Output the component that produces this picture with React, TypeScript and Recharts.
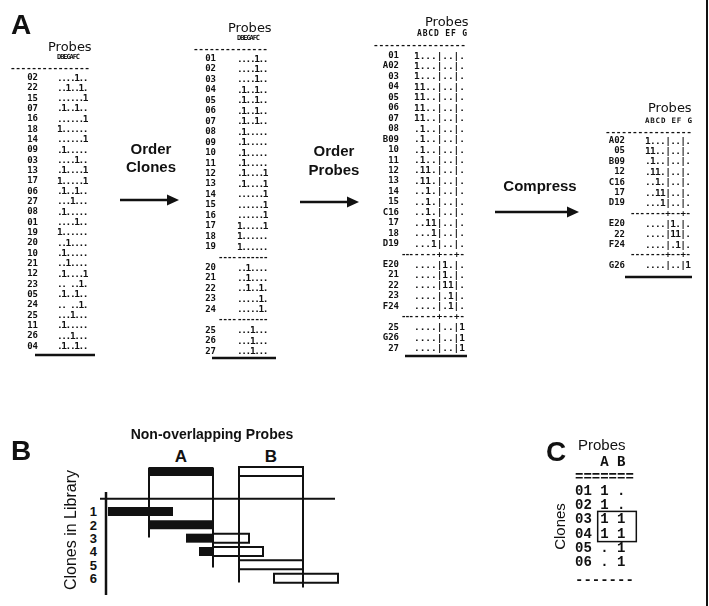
import React from 'react';
import { BarChart, Bar, XAxis, YAxis, ReferenceLine, LabelList } from 'recharts';

// ---------- panel A: the four clone x probe tables ----------
const SEP = '-';

const t1Clones = ['02', '22', '15', '07', '16', '18', '14', '09', '03', '13', '17', '06', '27', '08', '01', '19', '20', '10', '21', '12', '23', '05', '24', '25', '11', '26', '04'];
const t1Patterns = ['....1..', '..1..1.', '......1', '.1..1..', '......1', '1......', '......1', '.1.....', '....1..', '.1....1', '1.....1', '.1..1..', '...1...', '.1.....', '....1..', '1......', '..1....', '.1.....', '..1....', '.1....1', '.. ..1.', '.1..1..', '.. ..1.', '...1...', '.1.....', '...1...', '.1..1..'];

const t2Clones = ['01', '02', '03', '04', '05', '06', '07', '08', '09', '10', '11', '12', '13', '14', '15', '16', '17', '18', '19', SEP, '20', '21', '22', '23', '24', SEP, '25', '26', '27'];
const t2Patterns = ['....1..', '....1..', '....1..', '.1..1..', '.1..1..', '.1..1..', '.1..1..', '.1.....', '.1.....', '.1.....', '.1.....', '.1....1', '.1....1', '......1', '......1', '......1', '1.....1', '1......', '1......', SEP, '..1....', '..1....', '..1..1.', '.....1.', '.....1.', SEP, '...1...', '...1...', '...1...'];

const t3Clones = ['01', 'A02', '03', '04', '05', '06', '07', '08', 'B09', '10', '11', '12', '13', '14', '15', 'C16', '17', '18', 'D19', SEP, 'E20', '21', '22', '23', 'F24', SEP, '25', 'G26', '27'];
const t3Patterns = ['1...|..|.', '1...|..|.', '1...|..|.', '11..|..|.', '11..|..|.', '11..|..|.', '11..|..|.', '.1..|..|.', '.1..|..|.', '.1..|..|.', '.1..|..|.', '.11.|..|.', '.11.|..|.', '..1.|..|.', '..1.|..|.', '..1.|..|.', '..11|..|.', '...1|..|.', '...1|..|.', SEP, '....|1.|.', '....|1.|.', '....|11|.', '....|.1|.', '....|.1|.', SEP, '....|..|1', '....|..|1', '....|..|1'];

const t4Clones = ['A02', '05', 'B09', '12', 'C16', '17', 'D19', SEP, 'E20', '22', 'F24', SEP, 'G26'];
const t4Patterns = ['1...|..|.', '11..|..|.', '.1..|..|.', '.11.|..|.', '..1.|..|.', '..11|..|.', '...1|..|.', SEP, '....|1.|.', '....|11|.', '....|.1|.', SEP, '....|..|1'];

const probeOrderRaw = 'DBEGAFC';
const probeOrderGrouped = 'ABCD EF G';

// ---------- panel B: clone / probe intervals along the genome ----------
const cloneNames = ['1', '2', '3', '4', '5', '6'];
const cloneStart = [8, 49, 86, 99, 139, 174];
const cloneEnd = [73, 113, 149, 163, 203, 238];
const probeNames = ['A', 'B'];
const probeStart = [49, 139];
const probeEnd = [113, 203];

// ---------- panel C ----------
const cClones = ['01', '02', '03', '04', '05', '06'];
const cProbeA = ['1', '1', '1', '1', '.', '.'];
const cProbeB = ['.', '.', '1', '1', '1', '1'];

const INK = '#111';
const MONO = '"DejaVu Sans Mono", monospace';
const SANS = '"Liberation Sans", Arial, sans-serif';
const DSANS = '"DejaVu Sans", sans-serif';

const split = probeEnd[0];
const bData: any[] = [
  {
    row: 'probe',
    offset: probeStart[0],
    black: probeEnd[0] - probeStart[0],
    gap: probeStart[1] - probeEnd[0],
    white: probeEnd[1] - probeStart[1],
    nameA: probeNames[0],
    nameB: probeNames[1],
  },
  { row: 'pad1' },
  { row: 'pad2' },
  ...cloneNames.map((n, i) => ({
    row: n,
    offset: cloneStart[i],
    black: Math.max(0, Math.min(cloneEnd[i], split) - cloneStart[i]),
    gap: 0,
    white: Math.max(0, cloneEnd[i] - Math.max(cloneStart[i], split)),
  })),
];

// row index -> position on the hidden numeric row axis (0 = top band edge)
const half = 0.34;
const rowTop = (i: number) => i + 0.5 - half;
const rowBottom = (i: number) => i + 0.5 + half;

type Layout = {
  labelX: number; patX: number; patW: number; y0: number; step: number;
  probesX: number; probesY: number; subX: number; subY: number; subW: number; subSize: number;
  dashX1: number; dashX2: number; dashY: number; dashN: number;
  sepX1: number; sepCols: string; ruleX1: number; ruleX2: number; ruleY: number;
};

const L1: Layout = { labelX: 38, patX: 57, patW: 31.5, y0: 77, step: 10.33, probesX: 48, probesY: 46, subX: 57, subY: 57, subW: 23, subSize: 7, dashX1: 10, dashX2: 90, dashY: 67, dashN: 15, sepX1: 0, sepCols: '', ruleX1: 35, ruleX2: 95, ruleY: 355 };
const L2: Layout = { labelX: 216, patX: 237, patW: 31.5, y0: 58, step: 10.45, probesX: 228, probesY: 27, subX: 237, subY: 38, subW: 23, subSize: 7, dashX1: 193, dashX2: 268, dashY: 48, dashN: 14, sepX1: 218, sepCols: '-------', ruleX1: 212, ruleX2: 276, ruleY: 358 };
const L3: Layout = { labelX: 399, patX: 414, patW: 51, y0: 55, step: 10.45, probesX: 425, probesY: 21, subX: 417, subY: 33, subW: 50, subSize: 8, dashX1: 373, dashX2: 466, dashY: 44, dashN: 17, sepX1: 401, sepCols: '----+--+-', ruleX1: 405, ruleX2: 467, ruleY: 356 };
const L4: Layout = { labelX: 625, patX: 645, patW: 46, y0: 140, step: 10.4, probesX: 648, probesY: 107, subX: 645, subY: 120, subW: 47, subSize: 7.5, dashX1: 605, dashX2: 692, dashY: 131, dashN: 16, sepX1: 630, sepCols: '----+--+-', ruleX1: 625, ruleX2: 692, ruleY: 277 };

const monoText = { fontFamily: MONO, fontWeight: 700, fill: INK, whiteSpace: 'pre' as const };

function Table({ clones, patterns, sub, L }: { clones: string[]; patterns: string[]; sub: string; L: Layout }) {
  return (
    <g>
      <text x={L.probesX} y={L.probesY} dominantBaseline="central" style={{ fontFamily: DSANS, fontSize: 13, fill: INK }}>Probes</text>
      <text x={L.subX} y={L.subY} dominantBaseline="central" textLength={L.subW} lengthAdjust="spacing" style={{ ...monoText, fontSize: L.subSize }}>{sub}</text>
      <text x={L.dashX1} y={L.dashY} dominantBaseline="central" textLength={L.dashX2 - L.dashX1} lengthAdjust="spacing" style={{ ...monoText, fontSize: 9.5 }}>{'-'.repeat(L.dashN)}</text>
      {clones.map((c, i) => {
        const y = L.y0 + i * L.step;
        if (c === SEP) {
          const n = Math.round((L.patX - L.sepX1) / 4.5);
          return (
            <g key={i}>
              <text x={L.sepX1} y={y} dominantBaseline="central" textLength={L.patX - L.sepX1} lengthAdjust="spacing" style={{ ...monoText, fontSize: 9 }}>{'-'.repeat(n)}</text>
              <text x={L.patX} y={y} dominantBaseline="central" textLength={L.patW} lengthAdjust="spacing" style={{ ...monoText, fontSize: 9 }}>{L.sepCols}</text>
            </g>
          );
        }
        return (
          <g key={i}>
            <text x={L.labelX} y={y} dominantBaseline="central" textAnchor="end" style={{ ...monoText, fontSize: 9 }}>{c}</text>
            <text x={L.patX} y={y} dominantBaseline="central" textLength={L.patW} lengthAdjust="spacing" style={{ ...monoText, fontSize: 9.5 }}>{patterns[i]}</text>
          </g>
        );
      })}
      <line x1={L.ruleX1} x2={L.ruleX2} y1={L.ruleY} y2={L.ruleY} stroke={INK} strokeWidth={2.5} />
    </g>
  );
}

function Arrow({ x1, x2, y }: { x1: number; x2: number; y: number }) {
  return (
    <g>
      <line x1={x1} x2={x2 - 10} y1={y} y2={y} stroke={INK} strokeWidth={2.5} />
      <polygon points={`${x2 - 12},${y - 5.5} ${x2},${y} ${x2 - 12},${y + 5.5}`} fill={INK} />
    </g>
  );
}

const bold15 = { fontFamily: SANS, fontWeight: 700, fontSize: 15, fill: INK };
const panelLabel = { fontFamily: SANS, fontWeight: 700, fontSize: 28, fill: INK };
const cMono = { fontFamily: '"Liberation Mono", monospace', fontWeight: 700, fontSize: 14, fill: INK, whiteSpace: 'pre' as const };

export default function App() {
  const cx0 = 575;
  const cw = 8.4;
  const cy0 = 491;
  const cstep = 14.2;
  return (
    <div style={{ position: 'absolute', left: 0, top: 0, width: 709, height: 606, background: '#fff', overflow: 'hidden' }}>
      <svg width={709} height={606} style={{ position: 'absolute', left: 0, top: 0, filter: 'grayscale(1)' }}>
        <text x={11} y={34} style={panelLabel}>A</text>
        <text x={11} y={460} style={panelLabel}>B</text>
        <text x={546} y={461} style={panelLabel}>C</text>

        <Table clones={t1Clones} patterns={t1Patterns} sub={probeOrderRaw} L={L1} />
        <Table clones={t2Clones} patterns={t2Patterns} sub={probeOrderRaw} L={L2} />
        <Table clones={t3Clones} patterns={t3Patterns} sub={probeOrderGrouped} L={L3} />
        <Table clones={t4Clones} patterns={t4Patterns} sub={probeOrderGrouped} L={L4} />

        <text x={151} y={148} textAnchor="middle" dominantBaseline="central" style={bold15}>Order</text>
        <text x={151} y={166} textAnchor="middle" dominantBaseline="central" style={bold15}>Clones</text>
        <Arrow x1={120} x2={179} y={200} />
        <text x={334} y={150} textAnchor="middle" dominantBaseline="central" style={bold15}>Order</text>
        <text x={334} y={169} textAnchor="middle" dominantBaseline="central" style={bold15}>Probes</text>
        <Arrow x1={300} x2={359} y={202} />
        <text x={540} y={185} textAnchor="middle" dominantBaseline="central" style={bold15}>Compress</text>
        <Arrow x1={495} x2={579} y={212} />

        <text x={212} y={434} textAnchor="middle" dominantBaseline="central" style={{ ...bold15, fontSize: 14 }}>Non-overlapping Probes</text>
        <text transform="translate(70,530) rotate(-90)" textAnchor="middle" dominantBaseline="central" style={{ fontFamily: SANS, fontSize: 16, fill: INK }}>Clones in Library</text>

        {/* panel C */}
        <text x={578} y={444} dominantBaseline="central" style={{ fontFamily: SANS, fontSize: 15, fill: INK }}>Probes</text>
        <text x={cx0} y={462} dominantBaseline="central" style={cMono}>{'   A B'}</text>
        <text x={cx0} y={477} dominantBaseline="central" style={cMono}>{'======='}</text>
        {cClones.map((c, i) => (
          <text key={c} x={cx0} y={cy0 + i * cstep} dominantBaseline="central" style={cMono}>{`${c} ${cProbeA[i]} ${cProbeB[i]}`}</text>
        ))}
        <text x={cx0} y={cy0 + 6 * cstep + 4} dominantBaseline="central" style={cMono}>{'-------'}</text>
        <rect x={cx0 + 2.7 * cw} y={cy0 + 2 * cstep - 8} width={4.6 * cw} height={cstep + 16} fill="none" stroke={INK} strokeWidth={1.5} />
        <text transform={`translate(559,${cy0 + 2.5 * cstep}) rotate(-90)`} textAnchor="middle" dominantBaseline="central" style={{ fontFamily: SANS, fontSize: 15, fill: INK }}>Clones</text>

        <line x1={707} x2={707} y1={0} y2={606} stroke={INK} strokeWidth={2} />
      </svg>

      <div style={{ position: 'absolute', left: 78, top: 440 }}>
        <BarChart width={272} height={155} layout="vertical" data={bData} margin={{ top: 25, right: 10, bottom: 10, left: 10 }} barCategoryGap={0}>
          <XAxis type="number" domain={[0, 240]} allowDataOverflow hide />
          <YAxis type="category" dataKey="row" width={12} axisLine={false} tickLine={false} tickSize={0} tickMargin={3} interval={0}
            tickFormatter={(v: string) => (cloneNames.includes(v) ? v : '')}
            tick={{ fontFamily: SANS, fontWeight: 700, fontSize: 13, fill: INK }} />
          <YAxis yAxisId="n" type="number" domain={[0, 9]} allowDataOverflow hide />
          <Bar dataKey="offset" stackId="s" barSize={9} fill="transparent" isAnimationActive={false} />
          <Bar dataKey="black" stackId="s" barSize={9} fill={INK} isAnimationActive={false}>
            <LabelList dataKey="nameA" position="top" offset={5} style={{ fontFamily: SANS, fontWeight: 700, fontSize: 17, fill: INK }} />
          </Bar>
          <Bar dataKey="gap" stackId="s" barSize={9} fill="transparent" isAnimationActive={false} />
          <Bar dataKey="white" stackId="s" barSize={9} fill="#fff" stroke={INK} strokeWidth={2} isAnimationActive={false}>
            <LabelList dataKey="nameB" position="top" offset={5} style={{ fontFamily: SANS, fontWeight: 700, fontSize: 17, fill: INK }} />
          </Bar>
          <ReferenceLine yAxisId="n" ifOverflow="visible" segment={[{ x: 0, y: 2.25 }, { x: 235, y: 2.25 }]} stroke={INK} strokeWidth={2} />
          <ReferenceLine yAxisId="n" ifOverflow="visible" segment={[{ x: 6, y: 1.8 }, { x: 6, y: 8.95 }]} stroke={INK} strokeWidth={2.5} />
          <ReferenceLine yAxisId="n" ifOverflow="visible" segment={[{ x: probeStart[0], y: rowTop(0) }, { x: probeStart[0], y: rowBottom(4) }]} stroke={INK} strokeWidth={2} />
          <ReferenceLine yAxisId="n" ifOverflow="visible" segment={[{ x: probeEnd[0], y: rowTop(0) }, { x: probeEnd[0], y: rowBottom(6) }]} stroke={INK} strokeWidth={2} />
          <ReferenceLine yAxisId="n" ifOverflow="visible" segment={[{ x: probeStart[1], y: rowTop(0) }, { x: probeStart[1], y: rowBottom(7) }]} stroke={INK} strokeWidth={2} />
          <ReferenceLine yAxisId="n" ifOverflow="visible" segment={[{ x: probeEnd[1], y: rowTop(0) }, { x: probeEnd[1], y: rowTop(8) }]} stroke={INK} strokeWidth={2} />
        </BarChart>
      </div>
    </div>
  );
}
